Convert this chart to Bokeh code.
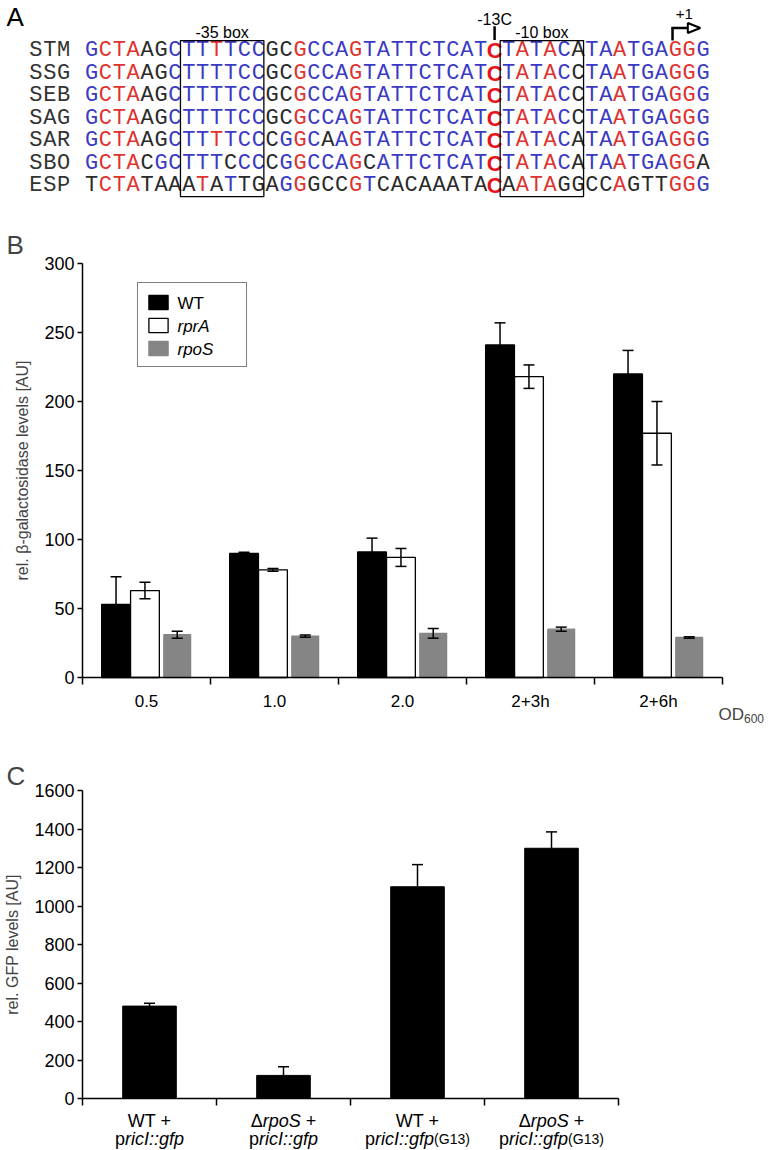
from bokeh.plotting import figure
from bokeh.models import (Range1d, FixedTicker, Label, Legend, LegendItem, Whisker,
                          TeeHead, ColumnDataSource, LinearAxis)
from bokeh.layouts import column
from bokeh.embed import file_html
from bokeh.resources import INLINE
from bokeh.core.properties import value

# ---------------- data ----------------
row_names = ["STM", "SSG", "SEB", "SAG", "SAR", "SBO", "ESP"]
sequences = [
    "GCTAAGCTTTTCCGCGCCAGTATTCTCATCTATACATAATGAGGG",
    "GCTAAGCTTTTCCGCGCCAGTATTCTCATCTATACCTAATGAGGG",
    "GCTAAGCTTTTCCGCGCCAGTATTCTCATCTATACCTAATGAGGG",
    "GCTAAGCTTTTCCGCGCCAGTATTCTCATCTATACCTAATGAGGG",
    "GCTAAGCTTTTCCCGGCAAGTATTCTCATCTATACATAATGAGGG",
    "GCTACGCTTTCCCCGGCCAGCATTCTCATCTATACATAATGAGGA",
    "TCTATAAATATTGAGGGCCGTCACAAATACAATAGGCCAGTTGGG",
]
# b = blue, r = red, k = black, R = bold red (-13C)
seq_colors = [
    "brrrkkb" + "bbrbbb" + "kkrbbbrbbbbbbbbb" + "R" + "brbrbk" + "bbrbbbrrb",
    "brrrkkb" + "bbbbbb" + "kkrbbbrbbbbbbbbb" + "R" + "brbrbk" + "bbrbbbrrb",
    "brrrkkb" + "bbbbbb" + "kkrbbbrbbbbbbbbb" + "R" + "brbrbk" + "bbrbbbrrb",
    "brrrkkb" + "bbbbbb" + "kkrbbbrbbbbbbbbb" + "R" + "brbrbk" + "bbrbbbrrb",
    "brrrkkb" + "bbrbbb" + "kbrbkbrbbbbbbbbb" + "R" + "brbrbk" + "bbrbbbrrb",
    "brrrkbb" + "bbbkbb" + "kbrbbbrkbbbbbbbb" + "R" + "brbrbk" + "bbrbbbrrk",
    "krrrkkk" + "krkbkk" + "kbrkkkrbkkkkkkkk" + "R" + "krrrkk" + "kkrkkkrrb",
]
box35 = (7, 12)      # first/last sequence index inside the -35 box
box10 = (30, 35)     # first/last sequence index inside the -10 box
pos13C = 29
pos_plus1 = 42

timepoints = ["0.5", "1.0", "2.0", "2+3h", "2+6h"]
wt_vals = [53, 90, 91, 241, 220]
wt_err = [20, 0.8, 10, 16, 17]
rpra_vals = [63, 78, 87, 218, 177]
rpra_err = [6, 1, 6.5, 8.5, 23]
rpos_vals = [31, 30, 32, 35, 29]
rpos_err = [2.5, 0.8, 3.5, 1.5, 0.5]
b_yticks = [0, 50, 100, 150, 200, 250, 300]
legend_names = ["WT", "rprA", "rpoS"]

gfp_vals = [480, 120, 1100, 1300]
gfp_err = [15, 45, 115, 85]
c_yticks = [0, 200, 400, 600, 800, 1000, 1200, 1400, 1600]
c_line1 = [[("WT +", "n")],
           [("\u0394", "n"), ("rpoS", "i"), (" +", "n")],
           [("WT +", "n")],
           [("\u0394", "n"), ("rpoS", "i"), (" +", "n")]]
c_line2 = [[("p", "n"), ("ricI::gfp", "i")],
           [("p", "n"), ("ricI::gfp", "i")],
           [("p", "n"), ("ricI::gfp", "i"), ("(G13)", "s")],
           [("p", "n"), ("ricI::gfp", "i"), ("(G13)", "s")]]

# ---------------- style ----------------
FONT = "Liberation Sans"
MONO = "Liberation Mono"
COL = {"b": "#3a3ac4", "r": "#e0322e", "k": "#2a2a2a"}
RED_BOLD = "#e8141c"
GRAY = "#858585"
W = 773

# Arial / Liberation Sans advance widths (per 1000 em)
AW = {'W': 944, 'T': 611, ' ': 278, '+': 584, '\u0394': 668, 'r': 333, 'p': 556,
      'o': 556, 'S': 667, 'i': 222, 'c': 500, 'I': 278, ':': 278, 'g': 556,
      'f': 278, '(': 333, 'G': 778, '1': 556, '3': 556, ')': 333, 'O': 778,
      'D': 722, '6': 556, '0': 556}


def tw(s, size):
    return sum(AW[ch] for ch in s) * size / 1000.0


def new_fig(h, xr, yr):
    p = figure(width=W, height=h, toolbar_location=None, output_backend="svg",
               x_range=Range1d(*xr), y_range=Range1d(*yr),
               x_axis_type=None, y_axis_type=None, min_border=0)
    p.outline_line_color = None
    p.grid.visible = False
    return p


# ================= Panel A =================
CH = 13.9          # px per character
X0 = 91            # px of sequence index 0 centre
ROW0 = 50          # px of first row centre
RP = 22.5          # row pitch px
HA = 225
pa = new_fig(HA, (-X0 / CH, (W - X0) / CH), ((HA - ROW0) / RP, -ROW0 / RP))

groups = {k: dict(x=[], y=[], t=[]) for k in "brkR"}
lab = dict(x=[], y=[], t=[])
for r, (name, s, c) in enumerate(zip(row_names, sequences, seq_colors)):
    for j, ch in enumerate(name):
        lab["x"].append(j - len(name) - 1)
        lab["y"].append(r)
        lab["t"].append(ch)
    for i, (ch, cc) in enumerate(zip(s, c)):
        groups[cc]["x"].append(i)
        groups[cc]["y"].append(r)
        groups[cc]["t"].append(ch)

pa.text(x="x", y="y", text="t", source=ColumnDataSource(lab), text_font=value(MONO),
        text_font_size="22px", text_color="#333333", text_align="center",
        text_baseline="middle")
for k in "brk":
    pa.text(x="x", y="y", text="t", source=ColumnDataSource(groups[k]),
            text_font=value(MONO), text_font_size="22px", text_color=COL[k],
            text_align="center", text_baseline="middle")
pa.text(x="x", y="y", text="t", source=ColumnDataSource(groups["R"]),
        text_font=value(FONT), text_font_style="bold", text_font_size="22px",
        text_color=RED_BOLD, text_align="center", text_baseline="middle")

nrows = len(row_names)
box_top = -0.44
box_bot = nrows - 1 + 0.49
for (a, b) in (box35, box10):
    pa.quad(left=a - 0.6, right=b + 0.4, top=box_top, bottom=box_bot,
            fill_color=None, line_color="black", line_width=1.3)

txt_kw = dict(text_font=value(FONT), text_font_size="16px", text_color="black",
              text_align="center", text_baseline="middle")
pa.text(x=[(box35[0] + box35[1]) / 2 - 0.1], y=[-0.8], text=["-35 box"], **txt_kw)
pa.text(x=[(box10[0] + box10[1]) / 2 - 0.1], y=[-0.8], text=["-10 box"], **txt_kw)
pa.text(x=[pos13C], y=[-1.38], text=["-13C"], **txt_kw)
pa.segment(x0=[pos13C], y0=[-1.08], x1=[pos13C], y1=[-0.47], line_color="black",
           line_width=2.5)

# transcription start arrow
ax = pos_plus1 - 0.2
ay = -1.0
pa.segment(x0=[ax, ax - 0.09], y0=[box_top, ay], x1=[ax, ax + 1.1], y1=[ay, ay],
           line_color="black", line_width=2.5)
pa.patch(x=[ax + 1.1, ax + 1.1, ax + 2.0], y=[ay - 0.22, ay + 0.22, ay],
         fill_color="white", line_color="black", line_width=2)
pa.text(x=[ax + 0.85], y=[-1.64], text=["+1"], **dict(txt_kw, text_font_size="15px"))
pa.text(x=[(6 - X0) / CH], y=[(16 - ROW0) / RP], text=["A"], text_font=value(FONT),
        text_font_size="26px", text_align="left", text_baseline="middle",
        text_color="black")


def add_axes(p, nx, ymax, yticks, ticks, minor, overrides, ylabel, xfs):
    yax = LinearAxis(fixed_location=0, bounds=(0, ymax), ticker=FixedTicker(ticks=yticks))
    xax = LinearAxis(fixed_location=0, bounds=(0, nx),
                     ticker=FixedTicker(ticks=ticks, minor_ticks=minor))
    for a in (xax, yax):
        a.axis_line_width = 1.5
        a.axis_line_color = "black"
        a.major_tick_line_width = 1.5
        a.minor_tick_line_width = 1.5
        a.major_label_text_font = FONT
        a.major_label_text_color = "black"
    yax.major_tick_out = 5
    yax.major_tick_in = 0
    yax.minor_tick_line_color = None
    yax.major_label_text_font_size = "18px"
    yax.major_label_standoff = 3
    yax.axis_label = ylabel
    yax.axis_label_text_font = FONT
    yax.axis_label_text_font_size = "16px"
    yax.axis_label_text_font_style = "normal"
    yax.axis_label_standoff = 10
    xax.major_tick_line_color = None
    xax.major_tick_out = 7
    xax.major_tick_in = 0
    xax.minor_tick_out = 7
    xax.minor_tick_in = 0
    xax.minor_tick_line_color = "black"
    xax.major_label_standoff = 7
    xax.major_label_text_font_size = xfs
    xax.major_label_overrides = overrides
    p.add_layout(yax, "left")
    p.add_layout(xax, "below")


# ================= Panel B =================
HB = 515
n = len(timepoints)
KXB = 128.0          # px per category
OXB = 82.0           # px of x = 0
ZB = 452.0           # px (from top) of y = 0
KYB = 414.0 / 300.0  # px per unit
pb = new_fig(HB, (-OXB / KXB, (W - OXB) / KXB), (-(HB - ZB) / KYB, ZB / KYB))

centers = [i + 0.5 for i in range(n)]
BW = 0.225
offs = [-0.238, -0.012, 0.24]
series = [(legend_names[0], wt_vals, wt_err, "black", "black"),
          (legend_names[1], rpra_vals, rpra_err, "white", "black"),
          (legend_names[2], rpos_vals, rpos_err, GRAY, GRAY)]
bar_r = []
for (name, vals, err, fc, lc), off in zip(series, offs):
    xs = [c + off for c in centers]
    src = ColumnDataSource(dict(x=xs, top=vals,
                                up=[v + e for v, e in zip(vals, err)],
                                lo=[v - e for v, e in zip(vals, err)]))
    r = pb.vbar(x="x", top="top", width=BW if fc != GRAY else BW * 0.93,
                source=src, fill_color=fc, line_color=lc, line_width=1.3)
    bar_r.append(r)
    pb.add_layout(Whisker(source=src, base="x", upper="up", lower="lo",
                          line_color="black", line_width=1.5, level="overlay",
                          upper_head=TeeHead(size=11, line_width=1.5, line_color="black"),
                          lower_head=TeeHead(size=11, line_width=1.5, line_color="black")))

add_axes(pb, n, 300, b_yticks, centers, list(range(n + 1)),
         {c: t for c, t in zip(centers, timepoints)},
         "rel. \u03b2-galactosidase levels [AU]", "17px")

# legend: glyphs from Legend, labels as text (WT upright, mutants italic)
LEG_LEFT, LEG_TOP, PAD, GW, LH, SP = 137, 59, 8, 24, 21, 2
leg_h = 2 * PAD + 3 * LH + 2 * SP
leg = Legend(items=[LegendItem(label=" ", renderers=[r]) for r in bar_r],
             location=(LEG_LEFT, HB - LEG_TOP - leg_h), glyph_width=GW, glyph_height=18,
             label_height=LH, label_width=60, spacing=SP, padding=PAD, margin=0,
             label_standoff=8, label_text_font_size="17px",
             border_line_color="black", border_line_width=1.2,
             background_fill_alpha=0)
pb.add_layout(leg)
for k, name in enumerate(legend_names):
    cy = LEG_TOP + PAD + LH / 2 + k * (LH + SP)
    pb.add_layout(Label(x=(LEG_LEFT + PAD + GW + 8 - OXB) / KXB, y=(ZB - cy) / KYB,
                        text=name, text_font=FONT, text_font_size="17px",
                        text_font_style="normal" if k == 0 else "italic",
                        text_align="left", text_baseline="middle", text_color="black"))

pb.add_layout(Label(x=(718 - OXB) / KXB, y=(ZB - 489) / KYB, text="OD", text_font=FONT,
                    text_font_size="17px", text_align="left", text_baseline="alphabetic"))
pb.add_layout(Label(x=(718 + tw("OD", 17) - OXB) / KXB, y=(ZB - 493) / KYB, text="600",
                    text_font=FONT, text_font_size="12px", text_align="left",
                    text_baseline="alphabetic"))
pb.add_layout(Label(x=(6 - OXB) / KXB, y=(ZB - 19) / KYB, text="B", text_font=FONT,
                    text_font_size="26px", text_align="left", text_baseline="middle"))

# ================= Panel C =================
HC = 410
m = len(gfp_vals)
KXC = 134.0
OXC = 82.0
ZC = 358.0
KYC = 308.0 / 1600.0
pc = new_fig(HC, (-OXC / KXC, (W - OXC) / KXC), (-(HC - ZC) / KYC, ZC / KYC))
cc = [i + 0.5 for i in range(m)]
srcc = ColumnDataSource(dict(x=cc, top=gfp_vals,
                             up=[v + e for v, e in zip(gfp_vals, gfp_err)],
                             lo=gfp_vals))
pc.vbar(x="x", top="top", width=0.4, source=srcc, fill_color="black",
        line_color="black")
pc.add_layout(Whisker(source=srcc, base="x", upper="up", lower="lo",
                      line_color="black", line_width=1.5, level="overlay",
                      upper_head=TeeHead(size=11, line_width=1.5, line_color="black"),
                      lower_head=None))
add_axes(pc, m, 1600, c_yticks, cc, list(range(m + 1)), {c: "" for c in cc},
         "rel. GFP levels [AU]", "17px")


def seg_labels(p, xc, y, segs, size, small):
    sizes = [small if st == "s" else size for _, st in segs]
    widths = [tw(t, s) for (t, _), s in zip(segs, sizes)]
    off = -sum(widths) / 2.0
    for (t, st), s, w in zip(segs, sizes, widths):
        lead = len(t) - len(t.lstrip(" "))
        shown = t.lstrip(" ")
        p.add_layout(Label(x=xc, y=y, x_offset=off + tw(" " * lead, s), text=shown,
                           text_font=FONT, text_font_size=f"{s}px",
                           text_font_style="italic" if st == "i" else "normal",
                           text_align="left", text_baseline="alphabetic",
                           text_color="black"))
        off += w


for xc, l1, l2 in zip(cc, c_line1, c_line2):
    seg_labels(pc, xc, -22 / KYC, l1, 18, 14)
    seg_labels(pc, xc, -40 / KYC, l2, 18, 14)

pc.add_layout(Label(x=(6 - OXC) / KXC, y=(ZC - 35) / KYC, text="C", text_font=FONT,
                    text_font_size="26px", text_align="left", text_baseline="middle"))

layout = column(pa, pb, pc, spacing=0)
open("out.html", "w").write(file_html(layout, INLINE))
